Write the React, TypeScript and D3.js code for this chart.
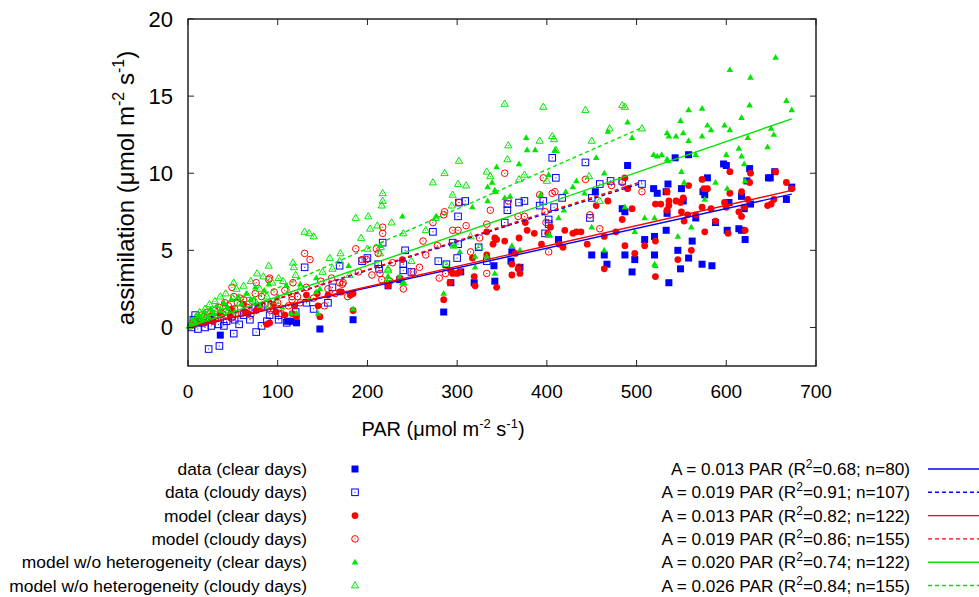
import React from "react";
import * as d3 from "d3";

// ---------- data (PAR, A) ----------
const dataClear: [number, number][] = [
  [36,-0.5],[111,0.4],[116,0.4],[121,0.3],[147,-0.1],[184,0.5],[223,2.7],[236,3.1],[285,1.0],[293,2.9],[304,3.6],[319,2.9],[341,4.0],[342,3.0],[360,4.3],[361,4.9],[370,3.9],[413,5.7],[450,4.7],[454,8.8],[464,4.7],[467,4.1],[484,7.7],[487,7.5],[487,4.7],[490,10.5],[495,3.6],[498,4.4],[509,5.7],[519,9.0],[520,5.9],[520,4.7],[523,8.7],[533,8.8],[533,6.3],[534,7.4],[535,9.3],[536,2.9],[543,11.0],[546,5.0],[549,3.8],[550,9.0],[552,8.2],[558,11.2],[558,4.5],[562,5.6],[566,7.1],[573,4.1],[574,8.8],[576,8.6],[579,9.7],[584,4.0],[588,6.8],[597,10.6],[600,10.5],[601,6.3],[603,8.1],[614,6.4],[617,8.5],[617,6.3],[620,7.7],[621,5.7],[623,9.5],[626,10.3],[627,8.0],[647,9.7],[649,9.7],[654,10.1],[667,8.3],[673,9.1]
];
const dataCloudy: [number, number][] = [
  [23,-1.4],[35,-1.2],[51,-0.4],[76,-0.3],[82,0.1],[110,0.3],[101,0.5],[101,0.8],[130,3.9],[169,4.0],[132,1.6],[156,1.6],[161,2.6],[8,0.8],[4,0.0],[11,-0.1],[19,0.0],[26,0.1],[34,0.2],[43,0.4],[49,0.7],[62,0.8],[69,0.5],[91,0.8],[82,1.4],[75,1.3],[6,0.5],[24,0.5],[52,0.5],[15,0.3],[30,0.6],[40,0.1],[57,0.2],[88,0.4],[120,1.0],[140,1.2],
  [194,4.3],[200,4.5],[212,4.1],[213,3.8],[217,5.5],[242,5.0],[240,4.1],[240,3.7],[249,3.6],[273,6.2],[279,4.3],[288,4.1],[295,5.5],[301,5.4],[300,4.5],[301,7.2],[302,8.1],[309,8.2],[324,5.2],[333,4.3],
  [353,6.8],[356,8.0],[356,7.6],[369,8.1],[375,8.2],[392,7.9],[396,8.2],[398,6.1],[402,7.0],[402,6.7],[406,11.0],[408,7.8],[410,9.7],[417,8.4],[443,10.7],[448,7.1],[450,8.4],[459,9.3],[471,9.5],[484,9.5],[506,9.3]
];
const modelClear: [number, number][] = [
  [604,10.1],[627,10.0],[626,9.4],[655,10.1],[667,9.4],[673,9.0],[573,9.6],[558,9.2],[579,9.0],[534,8.8],[552,8.4],[549,8.1],[544,8.2],[536,8.2],[536,7.9],[521,8.0],[527,8.0],[534,7.6],[550,7.5],[557,7.3],[566,7.3],[573,7.8],[583,7.7],[598,8.1],[600,7.8],[604,8.7],[617,8.8],[624,8.3],[620,7.8],[614,7.5],[617,7.2],[646,7.9],[650,8.0],[653,8.3],[553,6.9],[588,6.9],[576,6.2],[602,6.1],[621,6.3],[561,5.0],[546,4.4],[521,5.6],[521,3.3],
  [490,9.0],[487,9.7],[495,7.7],[484,7.0],[468,8.2],[455,7.9],[477,6.2],[464,5.9],[445,5.4],[420,6.3],[429,6.1],[433,6.2],[438,6.2],[414,5.4],[418,5.2],[404,6.5],[401,6.1],[394,5.4],[386,6.1],[378,6.3],[376,6.8],[369,5.8],[353,5.6],[344,5.7],[365,4.8],[361,4.1],[361,3.4],[368,3.8],[370,3.5],[344,2.6],[487,5.3],[509,5.3],[498,4.8],[464,3.8],[575,9.0],
  [333,6.2],[342,5.8],[340,5.4],[333,4.7],[317,4.5],[319,3.3],[320,2.7],[295,3.5],[300,3.5],[303,3.6],[293,3.7],[285,1.8],[239,4.4],[236,3.2],[223,2.7],[184,1.1],[184,2.2],[181,2.1],[169,2.3],[292,2.9],
  [121,0.7],[145,1.4],[147,0.7],[116,0.9],[108,0.8],[98,1.0],[91,0.3],[88,0.2],[76,1.1],[64,1.0],[62,1.5],[49,1.2],[47,0.8],[36,0.8],[28,0.4],[19,0.3],[11,0.4],[4,0.2],[80,1.4],[95,1.5],[132,2.1],[144,2.2],[156,2.1],[171,2.3],[119,1.4],[67,0.9]
];
const modelCloudy: [number, number][] = [
  [353,10.0],[396,9.7],[392,8.6],[406,8.7],[409,8.8],[443,9.6],[448,7.3],[484,9.4],[472,9.2],[506,8.8],[459,6.4],[402,4.9],[399,6.8],[375,7.2],[368,7.2],[357,8.2],[398,7.5],[369,3.9],
  [187,5.1],[173,2.9],[210,5.1],[212,4.8],[217,6.5],[217,6.1],[214,3.5],[216,3.1],[240,2.5],[265,4.7],[273,6.8],[278,5.3],[280,3.2],[287,3.5],[301,6.3],[295,6.3],[310,6.6],[333,3.5],[333,6.7],[285,7.3],[199,4.4],[286,7.5],[302,8.1],[337,7.6],
  [130,4.8],[136,4.4],[91,3.2],[49,2.6],[76,2.9],[117,2.9],[194,4.4],[225,3.0],[251,3.6],[116,1.8],[41,1.6],[116,2.0],[122,2.0],[156,2.5],[169,2.9],[172,2.8],[51,2.0],[58,1.9],[75,2.2],[90,3.1],[164,2.2],
  [3,0.1],[5,0.3],[8,0.2],[10,0.5],[13,0.4],[15,0.8],[18,0.3],[20,0.6],[22,1.0],[25,0.7],[28,0.4],[30,1.1],[33,0.6],[35,1.3],[38,0.9],[42,1.0],[45,1.4],[48,0.6],[52,1.2],[55,1.6],[60,0.9],[62,1.8],[66,1.3],[70,0.8],[72,1.7],[78,1.2],[82,2.0],[86,1.5],[92,1.1],[96,2.3],[100,1.6],[104,0.9],[108,2.4],[112,1.4],[125,1.6],[132,2.6],[140,1.9],[148,3.0],[152,1.4],[160,3.2],[178,2.0],[190,3.6],[205,3.4],[228,4.2],[258,3.9],[262,5.6],[315,4.9],[325,5.8]
];
const noHetClear: [number, number][] = [
  [655,17.5],[604,16.7],[627,16.2],[667,14.7],[673,14.1],[626,14.4],[617,13.6],[558,14.1],[573,14.2],[549,13.4],[534,12.6],[536,12.4],[544,12.4],[552,12.6],[558,12.1],[573,12.4],[579,13.1],[583,12.8],[598,13.1],[604,12.8],[624,12.3],[646,11.7],[650,12.9],[653,12.5],[614,11.6],[617,11.1],[620,10.6],[600,11.2],[566,11.2],[534,10.9],[535,10.8],[528,11.2],[523,11.1],[550,10.1],[553,9.4],[588,9.4],[601,9.0],[621,9.5],[576,8.3],[561,6.5],[546,5.9],[521,4.0],
  [490,13.3],[495,12.3],[519,11.2],[468,12.7],[455,11.0],[464,10.0],[433,9.5],[429,9.1],[421,8.8],[419,7.6],[413,7.1],[402,9.9],[409,11.5],[387,11.5],[378,11.5],[377,12.3],[369,10.6],[344,10.4],[342,8.9],[359,8.5],[353,8.4],[393,8.6],[442,8.7],[450,6.5],[464,5.0],[487,7.8],[509,7.1],[520,7.1],[520,4.1],[498,6.2],[403,6.0],[361,5.3],[370,5.0],[342,3.5],
  [334,9.1],[339,9.4],[343,8.8],[334,8.2],[317,7.8],[277,7.2],[239,7.2],
  [303,4.9],[320,3.9],[285,2.2],[184,1.2],[223,3.3],[236,3.3],[240,2.9],[179,4.0],[214,5.3],[297,5.3],[333,4.6],[320,4.6],
  [143,3.2],[121,0.9],[145,0.9],[147,2.5],[143,2.3],[65,2.2],
  [3,0.2],[6,0.5],[9,0.3],[12,0.8],[15,0.6],[18,1.0],[22,0.7],[25,1.2],[28,0.9],[32,1.4],[36,1.1],[40,1.6],[44,1.3],[48,1.8],[52,1.0],[56,2.0],[60,1.5],[70,1.8],[75,2.6],[80,1.4],[85,2.4],[90,2.8],[100,2.0],[105,1.3],[110,2.7],[115,0.9],[125,2.8],[135,1.8]
];
const noHetCloudy: [number, number][] = [
  [353,14.5],[396,14.3],[443,14.1],[484,14.4],[487,14.3],[506,12.9],[470,12.9],[357,11.8],[392,12.1],[406,12.4],[408,12.2],[410,11.5],[450,12.1],[356,10.9],[375,9.9],[369,9.6],[400,9.5],[447,9.8],[459,8.2],[402,6.0],
  [302,10.8],[286,10.0],[273,9.4],[301,9.3],[310,9.2],[295,8.6],[217,8.7],[217,8.2],[216,7.9],[187,7.1],[201,7.2],[333,10.1],[337,9.8],[294,7.9],
  [211,6.6],[227,6.8],[240,6.1],[203,6.4],[193,5.8],[200,5.1],[215,5.2],[214,4.8],[249,4.3],[265,6.3],[296,5.3],[287,4.1],[315,5.9],[325,5.2],[223,3.7],[276,7.1],
  [158,4.5],[169,4.3],[161,3.8],[135,6.1],[130,6.2],[140,5.9],[117,4.2],[118,3.9],[90,4.0],[77,3.5],[51,2.9],[101,3.2],[223,3.2],[223,3.8],[90,1.4],[240,2.9],
  [2,0.1],[4,0.4],[7,0.2],[9,0.7],[11,0.5],[13,1.0],[16,0.6],[19,1.2],[21,0.8],[24,1.5],[27,1.0],[30,1.7],[33,1.2],[36,2.0],[39,1.4],[42,2.2],[45,1.1],[50,1.9],[54,2.5],[58,1.6],[62,2.7],[66,2.1],[70,3.0],[74,1.8],[80,2.5],[84,3.3],[88,2.0],[94,2.9],[98,1.7],[106,3.0],[112,2.3],[120,3.4],[126,2.6],[150,3.6],[170,4.8],[180,3.4]
];

// regression fits: slope and PAR range end
const fitSlopes = [0.01285, 0.0185, 0.0132, 0.0187, 0.0201, 0.0256];
const fitEnds = [673, 506, 673, 506, 673, 506];
const fitLabels = [
  ["A = 0.013 PAR (R", "=0.68; n=80)"],
  ["A = 0.019 PAR (R", "=0.91; n=107)"],
  ["A = 0.013 PAR (R", "=0.82; n=122)"],
  ["A = 0.019 PAR (R", "=0.86; n=155)"],
  ["A = 0.020 PAR (R", "=0.74; n=122)"],
  ["A = 0.026 PAR (R", "=0.84; n=155)"],
];
const seriesLabels = [
  "data (clear days)",
  "data (cloudy days)",
  "model (clear days)",
  "model (cloudy days)",
  "model w/o heterogeneity (clear days)",
  "model w/o heterogeneity (cloudy days)",
];
const xTicks = [0, 100, 200, 300, 400, 500, 600, 700];
const yTicks = [0, 5, 10, 15, 20];

const BLUE = "#0000ff";
const RED = "#ff0000";
const GREEN = "#00e600";
const FONT = "'Liberation Sans', Arial, Helvetica, sans-serif";

const x = d3.scaleLinear().domain([0, 700]).range([188, 816]);
const y = d3.scaleLinear().domain([-2.5, 20]).range([366, 19]);

const seriesData = [dataClear, dataCloudy, modelClear, modelCloudy, noHetClear, noHetCloudy];
const seriesColor = [BLUE, BLUE, RED, RED, GREEN, GREEN];
const seriesShape = ["sq", "osq", "ci", "oci", "tr", "otr"];

function Marker({ shape, color, cx, cy }: { shape: string; color: string; cx: number; cy: number }) {
  switch (shape) {
    case "sq":
      return <rect x={cx - 3.5} y={cy - 3.5} width={7} height={7} fill={color} />;
    case "osq":
      return (
        <g>
          <rect x={cx - 3.3} y={cy - 3.3} width={6.6} height={6.6} fill="none" stroke={color} strokeWidth={1} />
          <rect x={cx - 0.5} y={cy - 0.5} width={1} height={1} fill={color} />
        </g>
      );
    case "ci":
      return <circle cx={cx} cy={cy} r={3.4} fill={color} />;
    case "oci":
      return (
        <g>
          <circle cx={cx} cy={cy} r={3.3} fill="none" stroke={color} strokeWidth={1} />
          <rect x={cx - 0.5} y={cy - 0.5} width={1} height={1} fill={color} />
        </g>
      );
    case "tr":
      return <path d={`M${cx},${cy - 3.5}L${cx + 3.3},${cy + 2.2}L${cx - 3.3},${cy + 2.2}Z`} fill={color} />;
    default:
      return (
        <g>
          <path d={`M${cx},${cy - 3.8}L${cx + 3.6},${cy + 2.4}L${cx - 3.6},${cy + 2.4}Z`} fill="none" stroke={color} strokeWidth={1} />
          <rect x={cx - 0.5} y={cy - 0.2} width={1} height={1} fill={color} />
        </g>
      );
  }
}

export default function App() {
  const line = d3.line<[number, number]>().x((d) => x(d[0])).y((d) => y(d[1]));
  const fitColors = [BLUE, BLUE, RED, RED, GREEN, GREEN];
  const fitDash = [null, "4,3", null, "4,3", null, "4,3"];
  const legendY = (i: number) => 469 + i * 23.3;
  return (
    <svg width={979} height={597} style={{ position: "absolute", left: 0, top: 0, background: "#fff" }} fontFamily={FONT}>
      <rect x={0} y={0} width={979} height={597} fill="#fff" />
      {/* points */}
      {seriesData.map((arr, si) => (
        <g key={si}>
          {arr.map((d, i) => (
            <Marker key={i} shape={seriesShape[si]} color={seriesColor[si]} cx={x(d[0])} cy={y(d[1])} />
          ))}
        </g>
      ))}
      {/* regression lines */}
      {fitSlopes.map((s, i) => (
        <path
          key={i}
          d={line([[0, 0], [fitEnds[i], s * fitEnds[i]]]) || ""}
          stroke={fitColors[i]}
          strokeWidth={1.4}
          strokeDasharray={fitDash[i] || undefined}
          fill="none"
        />
      ))}
      {/* frame */}
      <rect x={188} y={19} width={628} height={347} fill="none" stroke="#222" strokeWidth={1.5} />
      {xTicks.map((t) => (
        <g key={t}>
          <line x1={x(t)} x2={x(t)} y1={366} y2={360} stroke="#222" strokeWidth={1} />
          <line x1={x(t)} x2={x(t)} y1={19} y2={25} stroke="#222" strokeWidth={1} />
          <text x={x(t)} y={398} fontSize={19} textAnchor="middle" fill="#000">{t}</text>
        </g>
      ))}
      {yTicks.map((t) => (
        <g key={t}>
          <line x1={188} x2={194} y1={y(t)} y2={y(t)} stroke="#222" strokeWidth={1} />
          <line x1={816} x2={810} y1={y(t)} y2={y(t)} stroke="#222" strokeWidth={1} />
          <text x={173} y={y(t) + 8} fontSize={22} textAnchor="end" fill="#000">{t}</text>
        </g>
      ))}
      {/* axis labels */}
      <text x={443} y={436} fontSize={20} textAnchor="middle" fill="#000">
        PAR (μmol m<tspan dy={-8} fontSize={13}>-2</tspan><tspan dy={8}> s</tspan><tspan dy={-8} fontSize={13}>-1</tspan><tspan dy={8}>)</tspan>
      </text>
      <text transform="translate(134,188) rotate(-90)" fontSize={24} textAnchor="middle" fill="#000">
        assimilation (μmol m<tspan dy={-10} fontSize={16}>-2</tspan><tspan dy={10}> s</tspan><tspan dy={-10} fontSize={16}>-1</tspan><tspan dy={10}>)</tspan>
      </text>
      {/* legend left */}
      {seriesLabels.map((lab, i) => (
        <g key={i}>
          <text x={307} y={legendY(i) + 6} fontSize={17.4} textAnchor="end" fill="#000">{lab}</text>
          <Marker shape={seriesShape[i]} color={seriesColor[i]} cx={355} cy={legendY(i)} />
        </g>
      ))}
      {/* legend right */}
      {fitLabels.map((lab, i) => (
        <g key={i}>
          <text x={910} y={legendY(i) + 6} fontSize={17.2} textAnchor="end" fill="#000">
            {lab[0]}<tspan dy={-7} fontSize={12}>2</tspan><tspan dy={7}>{lab[1]}</tspan>
          </text>
          <line x1={928} x2={979} y1={legendY(i)} y2={legendY(i)} stroke={fitColors[i]} strokeWidth={1.4} strokeDasharray={fitDash[i] || undefined} />
        </g>
      ))}
    </svg>
  );
}
